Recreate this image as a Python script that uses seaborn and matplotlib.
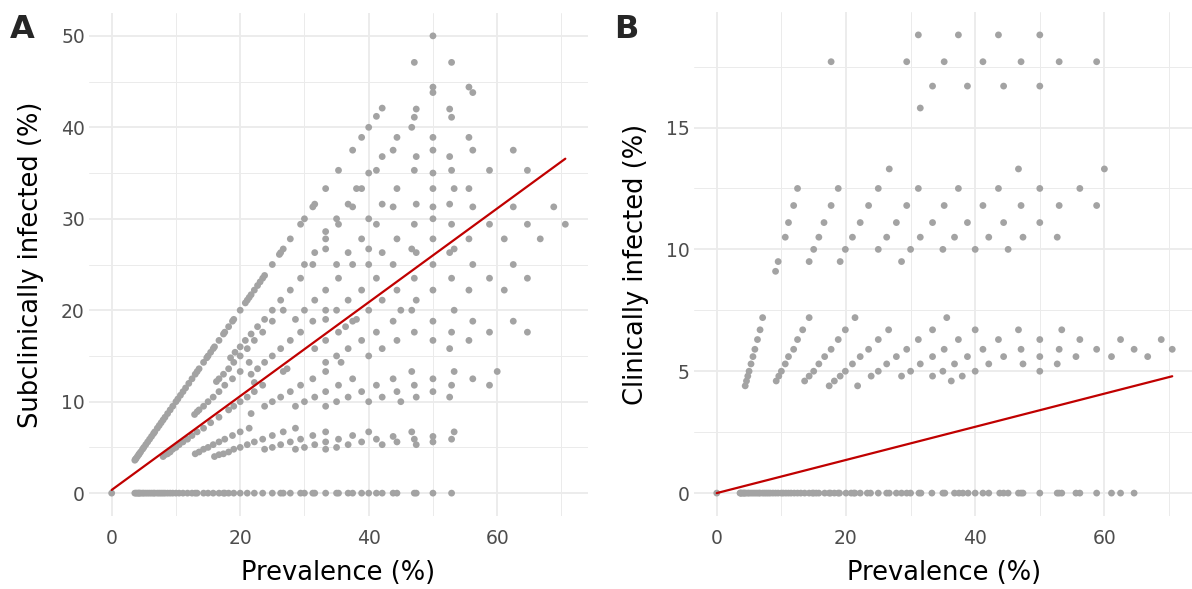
import numpy as np
import pandas as pd
import matplotlib
matplotlib.use("Agg")
import matplotlib.pyplot as plt
import seaborn as sns

# ---- Panel A: prevalence (%) vs subclinically infected (%) ----
a_origin = [(0.0, 0.0)]

# herds where every infected animal was subclinical (points on the diagonal)
a_pure = [
    (3.6, 3.6), (3.7, 3.7), (3.8, 3.8), (4.0, 4.0), (4.2, 4.2), (4.3, 4.3), (4.5, 4.5),
    (4.8, 4.8), (5.0, 5.0), (5.3, 5.3), (5.6, 5.6), (5.9, 5.9), (6.2, 6.2), (6.5, 6.5),
    (6.7, 6.7), (7.1, 7.1), (7.4, 7.4), (7.7, 7.7), (8.0, 8.0), (8.3, 8.3), (8.7, 8.7),
    (9.1, 9.1), (9.5, 9.5), (10.0, 10.0), (10.3, 10.3), (10.7, 10.7), (11.1, 11.1),
    (11.5, 11.5), (12.0, 12.0), (12.5, 12.5), (13.0, 13.0), (13.3, 13.3), (13.6, 13.6),
    (14.3, 14.3), (14.8, 14.8), (15.0, 15.0), (15.4, 15.4), (15.8, 15.8), (16.0, 16.0),
    (16.7, 16.7), (17.4, 17.4), (17.6, 17.6), (18.2, 18.2), (18.8, 18.8), (19.0, 19.0),
    (20.0, 20.0), (20.8, 20.8), (21.1, 21.1), (21.4, 21.4), (21.7, 21.7), (22.2, 22.2),
    (22.7, 22.7), (23.1, 23.1), (23.5, 23.5), (23.8, 23.8), (25.0, 25.0), (26.1, 26.1),
    (26.3, 26.3), (26.7, 26.7), (27.8, 27.8), (29.4, 29.4), (30.0, 30.0), (31.3, 31.3),
    (31.6, 31.6), (33.3, 33.3), (35.3, 35.3), (37.5, 37.5), (38.9, 38.9), (40.0, 40.0),
    (41.2, 41.2), (42.1, 42.1), (47.1, 47.1), (50.0, 50.0),
]

# sloping bands below the diagonal
a_bands = [
    # about 4/5
    (18.5, 14.8), (19.2, 15.4), (20.0, 16.0), (20.8, 16.7), (21.7, 17.4), (22.7, 18.2),
    (23.8, 19.0),
    # about 3/4
    (16.3, 12.2), (16.7, 12.5), (17.4, 13.0), (18.2, 13.6), (19.0, 14.3), (20.0, 15.0),
    (21.1, 15.8), (22.2, 16.7), (23.5, 17.6), (25.0, 18.8),
    # about 2/3
    (12.9, 8.6), (13.3, 8.9), (13.6, 9.1), (14.3, 9.5), (15.0, 10.0), (15.8, 10.5),
    (16.7, 11.1), (17.6, 11.8), (18.8, 12.5), (20.0, 13.3), (21.4, 14.3),
    # about 3/5
    (21.7, 13.0), (22.7, 13.6), (23.8, 14.3), (25.0, 15.0), (26.3, 15.8),
    # about 1/2 (along the fitted line)
    (8.0, 4.0), (8.3, 4.2), (8.7, 4.3), (9.1, 4.5), (9.5, 4.8), (10.0, 5.0), (10.5, 5.3),
    (11.1, 5.6), (11.8, 5.9), (12.5, 6.3), (13.3, 6.7), (14.3, 7.1), (15.4, 7.7),
    (16.7, 8.3), (18.2, 9.1), (19.0, 9.5), (20.0, 10.0), (21.1, 10.5), (22.2, 11.1),
    (22.2, 12.1), (23.5, 11.8), (36.4, 18.2), (37.5, 18.8), (38.1, 19.0),
    # about 2/5
    (21.7, 8.7), (23.8, 9.5), (25.0, 10.0), (26.3, 10.5), (27.8, 11.1),
    # about 1/3
    (13.0, 4.3), (13.6, 4.5), (14.3, 4.8), (15.0, 5.0), (15.8, 5.3), (16.7, 5.6),
    (17.6, 5.9), (18.8, 6.3), (20.0, 6.7), (21.4, 7.1),
    # about 1/4
    (16.0, 4.0), (16.7, 4.2), (17.4, 4.3), (18.2, 4.5), (19.0, 4.8), (20.0, 5.0),
    (21.1, 5.3), (22.2, 5.6), (23.5, 5.9), (25.0, 6.3), (26.7, 6.7), (28.6, 7.1),
    # about 1/5
    (23.8, 4.8), (25.0, 5.0), (26.3, 5.3), (27.8, 5.6),
]

# scattered points in the upper part of the cloud
a_cloud = [
    (52.9, 47.1), (50.0, 44.4), (50.0, 43.8), (55.6, 44.4), (56.2, 43.8), (47.4, 42.0),
    (47.1, 41.1), (52.6, 42.0), (52.9, 41.1), (46.7, 40.0), (44.4, 38.9), (50.0, 38.9),
    (55.6, 38.9), (43.8, 37.5), (50.0, 37.5), (56.2, 37.5), (62.5, 37.5), (47.4, 36.8),
    (52.6, 36.8), (42.1, 36.8), (47.1, 35.3), (50.0, 35.0), (52.9, 35.3), (58.8, 35.3),
    (64.7, 35.3), (44.4, 33.3), (50.0, 33.3), (53.3, 33.3), (55.6, 33.3), (42.1, 31.6),
    (43.8, 31.3), (47.4, 31.6), (50.0, 31.3), (52.6, 31.6), (56.2, 31.3), (62.5, 31.3),
    (68.8, 31.3), (47.1, 29.4), (50.0, 30.0), (52.9, 29.4), (58.8, 29.4), (64.7, 29.4),
    (70.6, 29.4), (44.4, 27.8), (50.0, 27.8), (55.6, 27.8), (61.1, 27.8), (66.7, 27.8),
    (42.1, 26.3), (46.7, 26.7), (47.4, 26.3), (52.6, 26.3), (53.3, 26.7),
    (38.1, 33.3), (38.9, 33.3), (40.0, 35.0), (41.2, 35.3), (36.8, 31.6), (37.5, 31.3),
    (35.0, 30.0), (35.3, 29.4), (40.0, 30.0), (41.2, 29.4), (33.3, 28.6), (33.3, 27.8),
    (38.9, 27.8), (31.6, 26.3), (33.3, 26.7), (36.8, 26.3), (40.0, 26.7),
    (43.8, 25.0), (50.0, 25.0), (56.2, 25.0), (62.5, 25.0), (47.1, 23.5), (52.9, 23.5),
    (58.8, 23.5), (64.7, 23.5), (44.4, 22.2), (50.0, 22.2), (55.6, 22.2), (61.1, 22.2),
    (42.1, 21.1), (47.4, 21.1), (45.0, 20.0), (46.7, 20.0), (53.3, 20.0), (43.8, 18.8),
    (50.0, 18.8), (56.2, 18.8), (62.5, 18.8), (47.1, 17.6), (52.9, 17.6), (58.8, 17.6),
    (64.7, 17.6), (44.4, 16.7), (50.0, 16.7), (55.6, 16.7), (42.1, 15.8), (52.6, 15.8),
    (46.7, 13.3), (53.3, 13.3), (60.0, 13.3), (43.8, 12.5), (50.0, 12.5), (56.2, 12.5),
    (47.1, 11.8), (52.9, 11.8), (58.8, 11.8), (42.1, 10.5), (44.4, 11.1), (47.4, 10.5),
    (50.0, 11.1), (52.6, 10.5), (45.0, 10.0), (46.7, 6.7), (43.8, 6.2), (50.0, 6.2),
    (53.3, 6.7), (42.1, 5.3), (44.4, 5.6), (47.1, 5.9), (47.4, 5.3), (50.0, 5.6),
    (52.9, 5.9),
    (30.0, 25.0), (31.3, 25.0), (35.0, 25.0), (37.5, 25.0), (40.0, 25.0), (29.4, 23.5),
    (35.3, 23.5), (41.2, 23.5), (27.8, 22.2), (33.3, 22.2), (38.9, 22.2), (26.3, 21.1),
    (31.6, 21.1), (36.8, 21.1), (25.0, 20.0), (26.7, 20.0), (30.0, 20.0), (33.3, 20.0),
    (35.0, 20.0), (40.0, 20.0), (28.6, 19.0), (33.3, 19.0), (31.3, 18.8), (29.4, 17.6),
    (35.3, 17.6), (41.2, 17.6), (27.8, 16.7), (33.3, 16.7), (38.9, 16.7), (31.6, 15.8),
    (36.8, 15.8), (35.0, 15.0), (40.0, 15.0), (26.7, 13.3), (27.3, 13.6), (33.3, 14.3),
    (33.3, 13.3), (35.7, 14.3), (31.3, 12.5), (37.5, 12.5),
    (29.4, 11.8), (35.3, 11.8), (41.2, 11.8), (28.6, 9.5), (30.0, 10.0), (31.6, 10.5),
    (33.3, 11.1), (33.3, 9.5), (35.0, 10.0), (36.8, 10.5), (38.9, 11.1), (40.0, 10.0),
    (28.6, 4.8), (29.4, 5.9), (30.0, 5.0), (31.3, 6.3), (31.6, 5.3), (33.3, 6.7),
    (33.3, 5.6), (33.3, 4.8), (35.0, 5.0), (35.3, 5.9), (36.8, 5.3), (37.5, 6.3),
    (38.9, 5.6), (40.0, 6.7), (41.2, 5.9),
]

# herds with no subclinical animals
a_zero_prev = [
    3.6, 3.8, 4.0, 4.2, 4.3, 4.5, 4.8, 5.0, 5.3, 5.6, 5.9, 6.2, 6.5, 6.7, 7.1, 7.4,
    7.7, 8.0, 8.3, 8.7, 9.1, 9.5, 10.0, 10.5, 11.1, 11.8, 12.5, 13.0, 13.3, 14.3, 15.0,
    15.8, 16.7, 17.4, 17.6, 18.2, 19.0, 20.0, 21.1, 22.2, 23.5, 25.0, 26.3, 26.7, 27.8,
    29.4, 30.0, 31.3, 31.6, 33.3, 35.0, 35.3, 36.8, 37.5, 38.9, 40.0, 41.2, 42.1, 43.8,
    44.4, 47.1, 47.4, 50.0, 52.9,
]

# ---- Panel B: prevalence (%) vs clinically infected (%) ----
b_points = [
    (0.0, 0.0),
    # three clinical cases
    (17.7, 17.7), (31.2, 18.8), (29.4, 17.7), (37.4, 18.8), (35.2, 17.7), (33.4, 16.7),
    (31.5, 15.8), (38.8, 16.7), (43.6, 18.8), (41.2, 17.7), (50.0, 18.8), (47.1, 17.7),
    (53.0, 17.7), (58.8, 17.7), (44.4, 16.7), (50.0, 16.7),
    # two clinical cases
    (26.7, 13.3), (46.7, 13.3), (60.0, 13.3),
    (12.5, 12.5), (18.8, 12.5), (25.0, 12.5), (31.2, 12.5), (37.4, 12.5), (43.6, 12.5),
    (50.0, 12.5), (56.2, 12.5),
    (11.9, 11.8), (17.7, 11.8), (23.5, 11.8), (29.4, 11.8), (35.2, 11.8), (41.2, 11.8),
    (47.1, 11.8), (53.0, 11.8), (58.8, 11.8),
    (11.1, 11.1), (16.6, 11.1), (22.2, 11.1), (27.8, 11.1), (33.4, 11.1), (38.8, 11.1),
    (44.4, 11.1), (50.0, 11.1),
    (10.6, 10.5), (15.8, 10.5), (21.0, 10.5), (26.3, 10.5), (31.5, 10.5), (36.8, 10.5),
    (42.1, 10.5), (47.4, 10.5), (52.7, 10.5),
    (15.0, 10.0), (19.9, 10.0), (25.0, 10.0), (30.0, 10.0), (35.0, 10.0), (40.0, 10.0),
    (45.1, 10.0),
    (9.5, 9.5), (14.3, 9.5), (19.1, 9.5), (28.6, 9.5), (9.1, 9.1),
    # one clinical case
    (7.1, 7.2), (6.7, 6.7), (6.3, 6.3), (5.9, 5.9), (5.6, 5.6), (5.3, 5.3), (5.0, 5.0),
    (4.8, 4.8), (4.6, 4.6), (4.4, 4.4),
    (14.3, 7.2), (13.3, 6.7), (12.5, 6.3), (11.9, 5.9), (11.1, 5.6), (10.6, 5.3),
    (10.0, 5.0), (9.6, 4.8), (9.2, 4.6),
    (21.4, 7.2), (19.9, 6.7), (18.8, 6.3), (17.7, 5.9), (16.7, 5.6), (15.8, 5.3),
    (15.0, 5.0), (14.3, 4.8), (13.6, 4.6),
    (26.6, 6.7), (25.0, 6.3), (23.5, 5.9), (22.2, 5.6), (21.0, 5.3), (19.9, 5.0),
    (19.1, 4.8), (18.2, 4.6), (17.4, 4.4),
    (31.2, 6.3), (29.4, 5.9), (27.8, 5.6), (26.3, 5.3), (25.0, 5.0), (23.9, 4.8),
    (21.8, 4.4),
    (33.4, 6.7), (35.2, 5.9), (33.4, 5.6), (31.5, 5.3), (30.0, 5.0), (28.6, 4.8),
    (35.6, 7.2), (37.4, 6.3), (38.8, 5.6), (36.8, 5.3), (35.0, 5.0), (33.4, 4.8),
    (36.3, 4.6), (38.0, 4.8),
    (40.0, 6.7), (41.2, 5.9), (40.0, 5.0), (42.1, 5.3), (43.6, 6.3),
    (46.7, 6.7), (53.4, 6.7), (50.0, 6.3), (56.2, 6.3), (62.5, 6.3), (68.8, 6.3),
    (47.1, 5.9), (53.0, 5.9), (58.8, 5.9), (64.6, 5.9), (70.5, 5.9),
    (44.4, 5.6), (50.0, 5.6), (55.6, 5.6), (61.1, 5.6), (66.7, 5.6),
    (47.4, 5.3), (52.7, 5.3), (50.0, 5.0),
]

# herds with no clinical animals
b_zero_prev = [
    3.6, 3.7, 3.8, 4.0, 4.2, 4.3, 4.5, 4.8, 5.0, 5.3, 5.6, 5.9, 6.2, 6.5, 6.7, 7.1, 7.4,
    7.7, 8.0, 8.3, 8.7, 9.1, 9.5, 10.0, 10.3, 10.7, 11.1, 11.5, 12.0, 12.5, 13.0, 13.6,
    14.3, 14.8, 15.0, 15.4, 15.8, 16.7, 17.4, 17.6, 18.2, 18.8, 19.0, 20.0, 20.8, 21.2,
    21.4, 22.2, 23.3, 23.8, 25.0, 26.3, 26.7, 27.8, 28.6, 29.4, 30.0, 31.3, 31.6, 33.3,
    35.0, 35.3, 36.8, 37.5, 38.1, 38.9, 40.0, 41.2, 42.1, 43.8, 44.4, 45.1, 46.7, 47.1,
    47.4, 50.0, 52.7, 53.0, 53.4, 55.6, 56.2, 58.8, 61.1, 62.5, 64.6,
]

# fitted linear trend (intercept, slope)
fit_a = (0.35, 0.513)
fit_b = (0.0, 0.068)


def build(pairs, zero_prev):
    df = pd.DataFrame(pairs, columns=["prev", "pct"])
    zeros = pd.DataFrame({"prev": zero_prev, "pct": 0.0})
    return pd.concat([df, zeros], ignore_index=True)


df_a = build(a_origin + a_pure + a_bands + a_cloud, a_zero_prev)
df_b = build(b_points, b_zero_prev)

sns.set_theme(style="white")
plt.rcParams["font.family"] = ["DejaVu Sans"]

fig = plt.figure(figsize=(11.92, 5.89), dpi=100)
W, H = 1192, 589
ax_a = fig.add_axes([89 / W, 1 - 516 / H, (588 - 89) / W, (516 - 13) / H])
ax_b = fig.add_axes([694 / W, 1 - 516 / H, (1195 - 694) / W, (516 - 12) / H])

grid_col = "#EBEBEB"
point_col = "#A3A3A3"
line_col = "#C00000"


def draw(ax, df, fit, ylabel, yticks, yminor, letter, letter_x):
    sns.scatterplot(data=df, x="prev", y="pct", ax=ax, color=point_col, s=24,
                    edgecolor="none", zorder=3)
    xs = np.array([df["prev"].min(), df["prev"].max()])
    sns.lineplot(x=xs, y=fit[0] + fit[1] * xs, ax=ax, color=line_col, lw=1.6, zorder=4)
    ax.margins(0.05)
    ax.set_xticks([0, 20, 40, 60])
    ax.set_xticks([10, 30, 50, 70], minor=True)
    ax.set_yticks(yticks)
    ax.set_yticks(yminor, minor=True)
    ax.grid(True, which="major", color=grid_col, lw=1.3)
    ax.grid(True, which="minor", color=grid_col, lw=0.7)
    ax.set_axisbelow(True)
    for sp in ax.spines.values():
        sp.set_visible(False)
    ax.tick_params(axis="x", which="both", length=0, labelsize=13.5,
                   labelcolor="#4D4D4D", pad=9)
    ax.tick_params(axis="y", which="both", length=0, labelsize=13.5,
                   labelcolor="#4D4D4D", pad=3)
    ax.set_xlabel("Prevalence (%)", fontsize=18.5, color="black", labelpad=9)
    ax.set_ylabel(ylabel, fontsize=18.5, color="black", labelpad=12)
    fig.text(letter_x / W, 1 - 30 / H, letter, fontsize=23, fontweight="bold",
             va="center", ha="left")


draw(ax_a, df_a, fit_a, "Subclinically infected (%)", [0, 10, 20, 30, 40, 50],
     [5, 15, 25, 35, 45], "A", 10)
draw(ax_b, df_b, fit_b, "Clinically infected (%)", [0, 5, 10, 15],
     [2.5, 7.5, 12.5, 17.5], "B", 614)

fig.savefig("out.png", dpi=100)
